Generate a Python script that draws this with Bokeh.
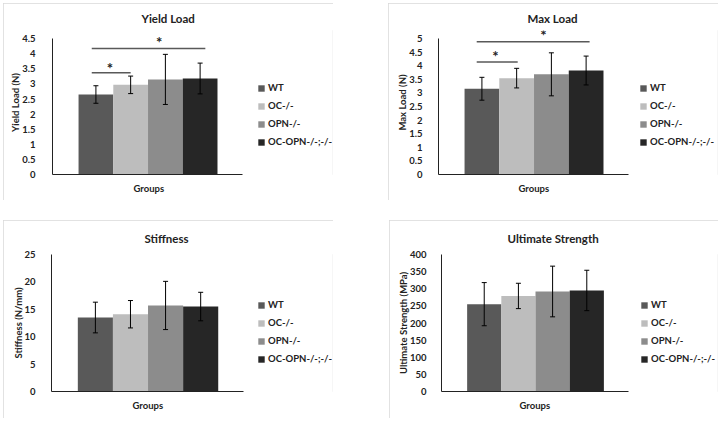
from bokeh.plotting import figure
from bokeh.models import (Range1d, FixedTicker, NumeralTickFormatter, Whisker, TeeHead,
                          ColumnDataSource, Legend, LegendItem, Label, Spacer, Title)
from bokeh.layouts import row, column
from bokeh.embed import file_html
from bokeh.resources import INLINE

# ---------------- data ----------------
groups = ["WT", "OC-/-", "OPN-/-", "OC-OPN-/-;-/-"]
colors = ["#595959", "#bdbdbd", "#8c8c8c", "#262626"]

yield_mean = [2.65, 2.97, 3.15, 3.18]
yield_err = [0.29, 0.29, 0.83, 0.51]
yield_ticks = [0, 0.5, 1, 1.5, 2, 2.5, 3, 3.5, 4, 4.5]

max_mean = [3.15, 3.54, 3.68, 3.82]
max_err = [0.42, 0.36, 0.79, 0.53]
max_ticks = [0, 0.5, 1, 1.5, 2, 2.5, 3, 3.5, 4, 4.5, 5]

stiff_mean = [13.5, 14.1, 15.7, 15.5]
stiff_err = [2.8, 2.5, 4.4, 2.6]
stiff_ticks = [0, 5, 10, 15, 20, 25]

us_mean = [255, 279, 292, 295]
us_err = [63, 37, 74, 59]
us_ticks = [0, 50, 100, 150, 200, 250, 300, 350, 400]

x_title = "Groups"

# significance brackets: (x start, x end, y) and stars (x, y)
yield_sig_lines = [(-0.12, 1.0, 3.37), (-0.12, 3.15, 4.17)]
yield_sig_stars = [(0.40, 3.60), (1.82, 4.47)]
max_sig_lines = [(-0.15, 1.03, 4.13), (-0.15, 3.10, 4.88)]
max_sig_stars = [(0.39, 4.41), (1.77, 5.21)]

FONT = "Lato"
TXT = "#222222"
X0, X1 = -1.25, 4.22   # x extent of the drawn axis


def panel(title, ylabel, means, errs, axis_top, view_top, ticks, axis_w, fw, fh,
          left, right, top, bottom, title_standoff, title_offset, groups_offset,
          tick_standoff, label_standoff, leg_x, leg_y,
          sig_lines=None, sig_stars=None):
    x_view_end = X0 + (X1 - X0) * fw / axis_w
    p = figure(frame_width=fw, frame_height=fh,
               min_border_left=left, min_border_right=right,
               min_border_top=top, min_border_bottom=bottom,
               x_range=Range1d(X0, x_view_end), y_range=Range1d(0, view_top),
               output_backend="svg", toolbar_location=None, tools="")
    p.outline_line_color = None
    p.grid.visible = False
    p.background_fill_color = "white"
    p.border_fill_color = "white"
    p.styles = {"outline": "1px solid #d9d9d9", "outline-offset": "-1px"}

    p.title.text = title
    p.title.align = "left"
    p.title.offset = title_offset
    p.title.text_font = FONT
    p.title.text_font_size = "11.5px"
    p.title.text_font_style = "bold"
    p.title.text_color = TXT
    p.title.standoff = title_standoff

    src = ColumnDataSource(dict(
        x=list(range(len(groups))), top=means,
        upper=[m + e for m, e in zip(means, errs)],
        lower=[m - e for m, e in zip(means, errs)],
        color=colors))
    r = p.vbar(x="x", top="top", bottom=0, width=1.0, fill_color="color",
               line_color=None, source=src)
    w = Whisker(source=src, base="x", upper="upper", lower="lower",
                line_color="black", line_width=1, level="overlay",
                upper_head=TeeHead(size=5, line_color="black", line_width=1),
                lower_head=TeeHead(size=5, line_color="black", line_width=1))
    p.add_layout(w)

    if sig_lines:
        p.segment(x0=[s[0] for s in sig_lines], x1=[s[1] for s in sig_lines],
                  y0=[s[2] for s in sig_lines], y1=[s[2] for s in sig_lines],
                  line_color="#595959", line_width=1.5)
    if sig_stars:
        for sx, sy in sig_stars:
            p.add_layout(Label(x=sx, y=sy, y_offset=-2, text="*", text_align="center",
                               text_baseline="middle", text_font=FONT,
                               text_font_size="15px", text_font_style="bold",
                               text_color=TXT))

    ya = p.yaxis[0]
    ya.bounds = (0, axis_top)
    ya.ticker = FixedTicker(ticks=ticks)
    ya.formatter = NumeralTickFormatter(format="0.[0]")
    ya.major_tick_line_color = None
    ya.minor_tick_line_color = None
    ya.major_label_standoff = tick_standoff
    ya.major_label_text_font = FONT
    ya.major_label_text_font_size = "9.5px"
    ya.major_label_text_font_style = "bold"
    ya.major_label_text_color = TXT
    ya.axis_line_color = "#222222"
    ya.axis_label = ylabel
    ya.axis_label_standoff = label_standoff
    ya.axis_label_text_font = FONT
    ya.axis_label_text_font_size = "9.5px"
    ya.axis_label_text_font_style = "bold"
    ya.axis_label_text_color = TXT

    xa = p.xaxis[0]
    xa.bounds = (X0, X1)
    xa.ticker = FixedTicker(ticks=[])
    xa.major_tick_line_color = None
    xa.minor_tick_line_color = None
    xa.axis_line_color = "#222222"

    p.add_layout(Title(text=x_title, align="left", offset=groups_offset, standoff=13,
                       text_font=FONT, text_font_size="9.5px", text_font_style="bold",
                       text_color=TXT), "below")

    legend = Legend(items=[LegendItem(label=g, renderers=[r], index=i)
                           for i, g in enumerate(groups)],
                    location=(leg_x, leg_y), orientation="vertical",
                    border_line_color=None, background_fill_alpha=0,
                    padding=0, margin=0, spacing=7,
                    glyph_width=8, glyph_height=8, label_height=8,
                    label_standoff=3, label_text_font=FONT,
                    label_text_font_size="9.5px", label_text_font_style="bold",
                    label_text_color=TXT)
    p.add_layout(legend)
    return p


p1 = panel("Yield Load", "Yield Load (N)", yield_mean, yield_err, 4.5, 4.77, yield_ticks,
           190, 280, 144, 49, 1, 27, 26, 12, 89, 81, 11, -2, 205, 27,
           yield_sig_lines, yield_sig_stars)
p2 = panel("Max Load", "Max Load (N)", max_mean, max_err, 5, 5.29, max_ticks,
           190, 279, 144, 50, 1, 27, 26, 12, 89, 80, 10, -2, 201, 27,
           max_sig_lines, max_sig_stars)
p3 = panel("Stiffness", "Stiffness (N/mm)", stiff_mean, stiff_err, 25, 25, stiff_ticks,
           192, 281, 137, 48, 1, 34, 27, 19, 93, 81, 10, -3, 206, 27)
p4 = panel("Ultimate Strength", "Ultimate Strength (MPa)", us_mean, us_err, 400, 400, us_ticks,
           187, 276, 137, 52, 1, 34, 27, 19, 66, 78, 9, -2, 199, 27)

layout = column(Spacer(height=3),
                row(Spacer(width=3), p1, Spacer(width=55), p2),
                Spacer(height=20),
                row(Spacer(width=3), p3, Spacer(width=56), p4))

open("out.html", "w").write(file_html(layout, INLINE))
